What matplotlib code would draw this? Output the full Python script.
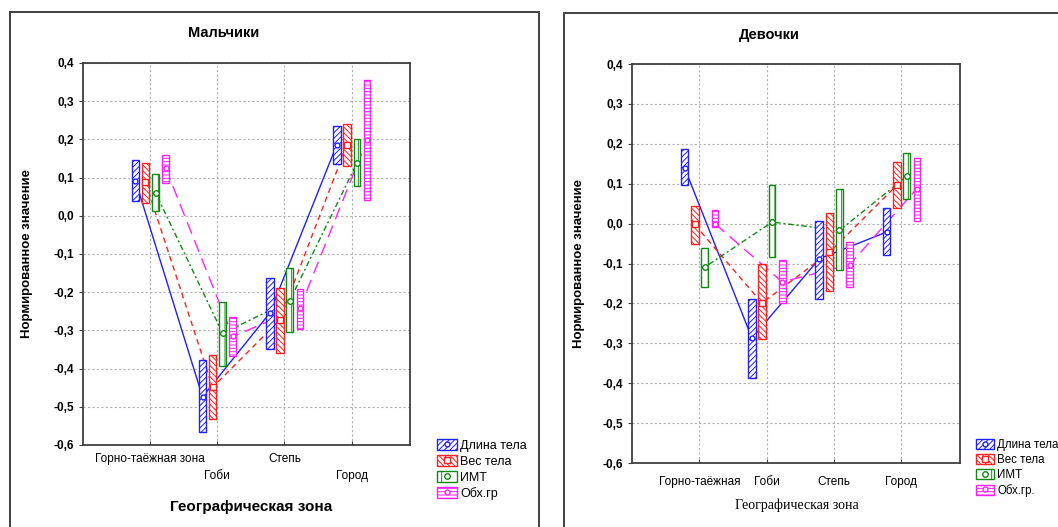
import numpy as np
import matplotlib
matplotlib.use("Agg")
import matplotlib.pyplot as plt
from matplotlib.patches import Rectangle
from matplotlib.lines import Line2D
from matplotlib.legend_handler import HandlerTuple

plt.rcParams['font.family'] = ['Liberation Sans', 'DejaVu Sans']
plt.rcParams['hatch.linewidth'] = 0.7

# зоны
zones_m = ["Горно-таёжная зона", "\nГоби", "Степь", "\nГород"]
zones_f = ["Горно-таёжная", "Гоби", "Степь", "Город"]

# признаки
names_m = ["Длина тела", "Вес тела", "ИМТ", "Обх.гр"]
names_f = ["Длина тела", "Вес тела", "ИМТ", "Обх.гр."]

# мальчики: среднее, нижняя и верхняя граница
m_mean = [[0.092, -0.474, -0.255, 0.186],
          [0.088, -0.449, -0.273, 0.186],
          [0.060, -0.308, -0.222, 0.138],
          [0.125, -0.316, -0.242, 0.199]]
m_lo = [[0.038, -0.565, -0.349, 0.136],
        [0.033, -0.532, -0.360, 0.131],
        [0.012, -0.392, -0.303, 0.077],
        [0.086, -0.367, -0.297, 0.040]]
m_hi = [[0.145, -0.377, -0.164, 0.234],
        [0.138, -0.364, -0.189, 0.241],
        [0.110, -0.226, -0.136, 0.201],
        [0.160, -0.266, -0.191, 0.355]]

# девочки
f_mean = [[0.140, -0.287, -0.088, -0.021],
          [-0.002, -0.199, -0.072, 0.096],
          [-0.109, 0.004, -0.017, 0.119],
          [0.000, -0.146, -0.103, 0.088]]
f_lo = [[0.098, -0.386, -0.189, -0.078],
        [-0.050, -0.289, -0.170, 0.038],
        [-0.159, -0.083, -0.115, 0.062],
        [-0.009, -0.200, -0.159, 0.006]]
f_hi = [[0.186, -0.188, 0.007, 0.039],
        [0.044, -0.100, 0.027, 0.154],
        [-0.062, 0.098, 0.086, 0.177],
        [0.033, -0.092, -0.047, 0.165]]

yticks = [-0.6, -0.5, -0.4, -0.3, -0.2, -0.1, 0.0, 0.1, 0.2, 0.3, 0.4]

colors = ["#1f1fff", "#ff2020", "#108a10", "#ff20ff"]
hatches = ["//////", "\\\\\\\\\\\\", "|", "-----"]
styles = ["-", (0, (4, 3)), (0, (1.5, 2, 4, 2)), (0, (9, 5))]
markers = ["o", "s", "o", "o"]
msizes = [3.5, 5, 4, 3.5]
offsets = [-0.22, -0.07, 0.08, 0.23]
widths = [0.115, 0.115, 0.1, 0.1]

x = np.arange(1, 5)

fig = plt.figure(figsize=(10.58, 5.27), dpi=100)

# рамки вокруг графиков
fig.add_artist(Rectangle((0.0095, -0.05), 0.5, 1.027, transform=fig.transFigure,
                         fill=False, edgecolor="#404040", lw=1.4))
fig.add_artist(Rectangle((0.533, -0.05), 0.6, 1.025, transform=fig.transFigure,
                         fill=False, edgecolor="#404040", lw=1.4))


def draw(ax, mean, lo, hi):
    for i in range(4):
        xs = x + offsets[i]
        ax.plot(xs, mean[i], color=colors[i], ls=styles[i], lw=1.0, zorder=2)
        ax.bar(xs, np.array(hi[i]) - np.array(lo[i]), bottom=lo[i], width=widths[i],
               facecolor="white", edgecolor=colors[i], hatch=hatches[i], lw=1.0, zorder=3)
        ax.plot(xs, mean[i], ls="none", marker=markers[i], ms=msizes[i],
                mfc="white", mec=colors[i], mew=1.0, zorder=4)
    ax.set_xlim(0, 4.87)
    ax.set_ylim(-0.6, 0.4)
    ax.set_xticks(x)
    ax.set_yticks(yticks)
    ax.set_yticklabels([("%.1f" % v).replace(".", ",") for v in yticks],
                       fontweight="bold", fontsize=8.5)
    ax.grid(True, ls=(0, (2, 2)), color="#b0b0b0", lw=0.8)
    ax.set_axisbelow(True)
    for s in ax.spines.values():
        s.set_color("#404040")
        s.set_linewidth(1.3)
    ax.tick_params(axis="y", direction="out", length=3, color="#404040")
    ax.tick_params(axis="x", direction="in", length=3, color="#404040")
    ax.set_ylabel("Нормированное значение", fontweight="bold", fontsize=9.5)


def legend(ax, names, pos, size):
    handles = []
    for i in range(4):
        p = Rectangle((0, 0), 1, 1, facecolor="white", edgecolor=colors[i], hatch=hatches[i], lw=1.0)
        m = Line2D([], [], ls="none", marker=markers[i], ms=msizes[i], mfc="white", mec=colors[i])
        handles.append((p, m))
    fig.legend(handles, names, loc="upper left", bbox_to_anchor=pos, frameon=False,
               fontsize=size, handlelength=1.6, handleheight=1.0, handletextpad=0.25,
               labelspacing=0.25, borderpad=0, borderaxespad=0,
               handler_map={tuple: HandlerTuple(ndivide=1)})


# мальчики
ax1 = fig.add_axes([0.0785, 0.1556, 0.309, 0.725])
draw(ax1, m_mean, m_lo, m_hi)
ax1.set_xticklabels(zones_m, fontsize=8.5)
for t in ax1.get_xticklabels():
    t.set_linespacing(1.5)
ax1.tick_params(axis="x", pad=6)
ax1.yaxis.set_label_coords(-0.153, 0.5)
ax1.set_xlabel("Географическая зона", fontweight="bold", fontsize=11)
ax1.xaxis.set_label_coords(0.514, -0.145)
ax1.text(0.43, 1.078, "Мальчики", transform=ax1.transAxes, ha="center", va="center",
         fontweight="bold", fontsize=10.5)
legend(ax1, names_m, (437 / 1058, 1 - 439 / 527), 9)

# девочки
ax2 = fig.add_axes([0.5974, 0.1214, 0.310, 0.757])
draw(ax2, f_mean, f_lo, f_hi)
ax2.set_xticklabels(zones_f, fontsize=8.5)
ax2.tick_params(axis="x", pad=9)
ax2.yaxis.set_label_coords(-0.143, 0.5)
ax2.set_xlabel("Географическая зона", family=["Liberation Serif", "DejaVu Serif"], fontsize=10)
ax2.xaxis.set_label_coords(0.503, -0.09)
ax2.text(0.42, 1.073, "Девочки", transform=ax2.transAxes, ha="center", va="center",
         fontweight="bold", fontsize=10.5)
legend(ax2, names_f, (976 / 1058, 1 - 439 / 527), 8.3)

fig.savefig("out.png", dpi=100)
